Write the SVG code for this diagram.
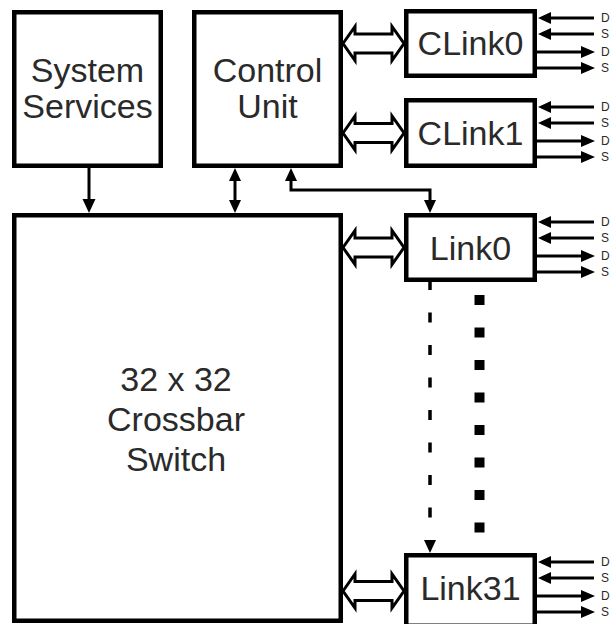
<svg xmlns="http://www.w3.org/2000/svg" width="610" height="624" viewBox="0 0 610 624">
  <style>
    .box { fill: #ffffff; stroke: #000000; stroke-width: 4.5; }
    .lbl { font-family: "Liberation Sans", Arial, sans-serif; font-size: 34px; fill: #2a2a2a; text-anchor: middle; }
    .sig { font-family: "Liberation Sans", Arial, sans-serif; font-size: 12px; fill: #2a2a2a; }
    .wire { fill: none; stroke: #000000; stroke-width: 3; }
    .head { fill: #000000; stroke: none; }
    .bus { fill: #ffffff; stroke: #000000; stroke-width: 3; stroke-linejoin: miter; }
  </style>
  <defs>
    <!-- hollow double-headed bus arrow, 61 px long, centred on y=0 -->
    <polygon id="busArrow" class="bus" points="0,0 12,-17 12,-9.5 49,-9.5 49,-17 61,0 49,17 49,9.5 12,9.5 12,17"/>
    <!-- four external signals on the right side of a link box (top edge at y=0) -->
    <g id="signals">
      <line class="wire" x1="549" y1="9" x2="594" y2="9"/>
      <polygon class="head" points="538,9 551,3 551,15"/>
      <line class="wire" x1="549" y1="25" x2="594" y2="25"/>
      <polygon class="head" points="538,25 551,19 551,31"/>
      <line class="wire" x1="537" y1="43" x2="582" y2="43"/>
      <polygon class="head" points="595,43 581,37 581,49"/>
      <line class="wire" x1="537" y1="59" x2="582" y2="59"/>
      <polygon class="head" points="595,59 581,53 581,65"/>
      <text class="sig" x="601" y="13">D</text>
      <text class="sig" x="601" y="29">S</text>
      <text class="sig" x="601" y="47">D</text>
      <text class="sig" x="601" y="63">S</text>
    </g>
  </defs>

  <rect width="610" height="624" fill="#ffffff"/>

  <g id="connectors">
    <!-- bus arrows between crossbar / control unit and the links -->
    <use href="#busArrow" x="343" y="43.5"/>
    <use href="#busArrow" x="343" y="133"/>
    <use href="#busArrow" x="343" y="247.5"/>
    <use href="#busArrow" x="343" y="591"/>

    <!-- System Services to crossbar -->
    <line class="wire" x1="89" y1="168" x2="89" y2="202"/>
    <polygon class="head" points="89,213 82.5,199 95.5,199"/>

    <!-- Control Unit <-> crossbar -->
    <line class="wire" x1="235" y1="178" x2="235" y2="203"/>
    <polygon class="head" points="235,168 229,181 241,181"/>
    <polygon class="head" points="235,213 229,200 241,200"/>

    <!-- Control Unit <-> Link0 -->
    <path class="wire" d="M291 178 V190 H430 V203"/>
    <polygon class="head" points="291,168 285,181 297,181"/>
    <polygon class="head" points="430,213 424,200 436,200"/>

    <!-- Link0 ... Link31 chain -->
    <line x1="430" y1="280" x2="430" y2="540" stroke="#000000" stroke-width="3.5" stroke-dasharray="10 22.5"/>
    <polygon class="head" points="430,553 424,540 436,540"/>
    <line x1="479.5" y1="295" x2="479.5" y2="533" stroke="#000000" stroke-width="10" stroke-dasharray="10 22.5"/>

    <!-- external signals -->
    <use href="#signals" y="9"/>
    <use href="#signals" y="98"/>
    <use href="#signals" y="213"/>
    <use href="#signals" y="553"/>
  </g>

  <g id="system-services">
    <rect class="box" x="14.25" y="12.25" width="146.5" height="153.5"/>
    <text class="lbl" x="87.5" y="82">System</text>
    <text class="lbl" x="87.5" y="118">Services</text>
  </g>

  <g id="control-unit">
    <rect class="box" x="194.25" y="12.25" width="146.5" height="153.5"/>
    <text class="lbl" x="267.5" y="82">Control</text>
    <text class="lbl" x="267.5" y="118">Unit</text>
  </g>

  <g id="crossbar">
    <rect class="box" x="14.25" y="215.25" width="326.5" height="405.5"/>
    <text class="lbl" x="176" y="391">32 x 32</text>
    <text class="lbl" x="176" y="431">Crossbar</text>
    <text class="lbl" x="176" y="471">Switch</text>
  </g>

  <g id="clink0">
    <rect class="box" x="406.25" y="11.25" width="128.5" height="64.5"/>
    <text class="lbl" x="470.5" y="55">CLink0</text>
  </g>

  <g id="clink1">
    <rect class="box" x="406.25" y="100.25" width="128.5" height="65.5"/>
    <text class="lbl" x="470.5" y="144.5">CLink1</text>
  </g>

  <g id="link0">
    <rect class="box" x="406.25" y="215.25" width="128.5" height="64.5"/>
    <text class="lbl" x="470.5" y="260">Link0</text>
  </g>

  <g id="link31">
    <rect class="box" x="406.25" y="555.25" width="128.5" height="70.5"/>
    <text class="lbl" x="470.5" y="600">Link31</text>
  </g>
</svg>
